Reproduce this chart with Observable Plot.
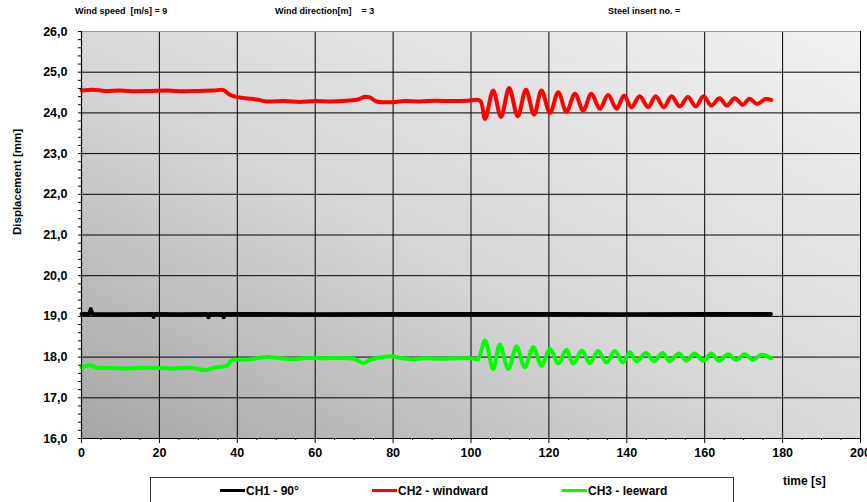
<!DOCTYPE html>
<html>
<head>
<meta charset="utf-8">
<script src="https://cdn.jsdelivr.net/npm/d3@7"></script>
<script src="https://cdn.jsdelivr.net/npm/@observablehq/plot@0.6"></script>
<style>
  body { margin: 0; background: #fff; font-family: "Liberation Sans", Arial, sans-serif; }
  #wrap { position: relative; width: 867px; height: 502px; overflow: hidden; }
  #wrap svg { position: absolute; left: 0; top: 0; }
  .hdr { position: absolute; top: 6px; font-size: 9px; font-weight: bold; white-space: pre; color: #000; line-height: 11px; }
  .xlabel { position: absolute; left: 783px; top: 473px; font-size: 12px; font-weight: bold; line-height: 16px; }
  .legend { position: absolute; left: 150px; top: 477px; width: 582px; height: 40px; border: 1px solid #333; background: #fff; }
  .item { position: absolute; top: 6px; font-size: 12px; font-weight: bold; line-height: 14px; white-space: nowrap; }
  .item .sw { display: inline-block; width: 25px; height: 3px; vertical-align: middle; margin-right: 1px; position: relative; top: -1px; }
</style>
</head>
<body>
<div id="wrap"></div>
<script>
// ---- data (time [s], displacement [mm]) ----
const headerTexts = ["Wind speed  [m/s] = 9", "Wind direction[m]    = 3", "Steel insert no. ="];
const seriesNames = ["CH1 - 90°", "CH2 - windward", "CH3 - leeward"];
const seriesColors = ["#000000", "#ff0000", "#00ff00"];

const xTicks = [0, 20, 40, 60, 80, 100, 120, 140, 160, 180, 200];
const xMinorTicks = [5,10,15,25,30,35,45,50,55,65,70,75,85,90,95,105,110,115,125,130,135,145,150,155,165,170,175,185,190,195];
const yTicks = [16, 17, 18, 19, 20, 21, 22, 23, 24, 25, 26];
const yTickLabels = ["16,0","17,0","18,0","19,0","20,0","21,0","22,0","23,0","24,0","25,0","26,0"];
const yMinorTicks = [16.2,16.4,16.6,16.8,17.2,17.4,17.6,17.8,18.2,18.4,18.6,18.8,19.2,19.4,19.6,19.8,20.2,20.4,20.6,20.8,21.2,21.4,21.6,21.8,22.2,22.4,22.6,22.8,23.2,23.4,23.6,23.8,24.2,24.4,24.6,24.8,25.2,25.4,25.6,25.8];

const ch1 = [[0,19.06],[2,19.06],[2.4,19.18],[2.8,19.06],[10,19.05],[18.2,19.06],[18.5,18.99],[18.8,19.06],[25,19.05],[32.3,19.06],[32.6,18.98],[32.9,19.06],[36.2,19.06],[36.5,18.98],[36.8,19.06],[45,19.06],[60,19.05],[80,19.06],[100,19.06],[120,19.06],[140,19.05],[160,19.06],[177,19.06]];

const ch2 = [[0,24.55],[3,24.57],[6,24.54],[10,24.55],[14,24.53],[18,24.54],[22,24.55],[26,24.53],[30,24.54],[34,24.55],[36.5,24.56],[38,24.45],[39.5,24.40],[42,24.36],[45,24.33],[47.5,24.28],[52,24.29],[56,24.27],[60,24.29],[64,24.28],[68,24.30],[71,24.33],[72.5,24.39],[74,24.38],[75.8,24.28],[79,24.26],[83,24.29],[87,24.28],[91,24.30],[95,24.29],[99,24.30],[102.3,24.30],[103.6,23.85],[105.7,24.55],[107.7,23.90],[109.8,24.61],[112.0,23.92],[114.1,24.57],[116.2,23.96],[118.1,24.55],[120.3,24.00],[122.4,24.51],[124.5,24.03],[126.7,24.47],[128.8,24.06],[130.9,24.47],[133.1,24.10],[135.2,24.44],[137.4,24.10],[139.3,24.43],[141.2,24.14],[143.3,24.41],[145.5,24.14],[147.4,24.41],[149.5,24.14],[151.5,24.41],[153.6,24.16],[155.7,24.39],[157.7,24.16],[159.7,24.41],[161.7,24.18],[163.8,24.36],[165.7,24.18],[167.7,24.36],[169.8,24.20],[171.5,24.35],[173.4,24.22],[175.6,24.34],[177.1,24.32]];

const ch3 = [[0,17.75],[2,17.80],[4,17.74],[8,17.73],[12,17.72],[16,17.74],[20,17.73],[24,17.72],[28,17.74],[32,17.68],[34,17.74],[37.3,17.79],[38.6,17.92],[42.5,17.94],[45,17.97],[47.6,18.00],[51,17.97],[54.5,17.95],[58,17.98],[62,17.97],[66,17.98],[70,17.96],[72.4,17.85],[74,17.93],[76,17.98],[79.2,18.02],[82,17.98],[85,17.95],[88,17.97],[92,17.96],[96,17.97],[100,17.97],[101.8,17.96],[103.6,18.41],[105.7,17.71],[107.4,18.31],[109.6,17.71],[111.7,18.26],[113.8,17.75],[116,18.24],[118.1,17.79],[120.3,18.20],[122.4,17.84],[124.5,18.18],[126.2,17.84],[128.5,18.16],[130.5,17.85],[132.6,18.15],[134.8,17.87],[136.9,18.15],[139,17.87],[140.8,18.12],[142.5,17.90],[144.9,18.10],[147,17.90],[149.2,18.10],[151,17.90],[153.4,18.09],[155.3,17.91],[157.4,18.09],[159.6,17.91],[161.7,18.09],[163.7,17.91],[166,18.07],[168.1,17.93],[170.3,18.07],[172.4,17.93],[174.5,18.06],[177.1,17.97]];

const series = [ch1, ch2, ch3];
const seriesCurves = ["linear", "catmull-rom", "catmull-rom"];

// ---- chart ----
const wrap = document.getElementById("wrap");
const plot = Plot.plot({
  width: 867,
  height: 502,
  marginLeft: 81,
  marginRight: 7,
  marginTop: 31,
  marginBottom: 64,
  style: { fontFamily: "'Liberation Sans', Arial, sans-serif", fontSize: "12.5px", fontWeight: "bold", color: "#000", background: "transparent", overflow: "visible" },
  x: { domain: [0, 200] },
  y: { domain: [16, 26] },
  marks: [
    Plot.frame({ fill: "url(#bgGrad)", stroke: null }),
    Plot.gridX(xTicks.filter(d => d > 0), { stroke: "#000", strokeOpacity: 1, strokeWidth: 1 }),
    Plot.gridY(yTicks.filter(d => d > 16 && d < 26), { stroke: "#000", strokeOpacity: 1, strokeWidth: 1 }),
    Plot.gridY([26], { stroke: "#999", strokeOpacity: 1, strokeWidth: 1 }),
    ...series.map((s, i) => Plot.line(s, { x: d => d[0], y: d => d[1], stroke: seriesColors[i], strokeWidth: 4, curve: seriesCurves[i] })),
    Plot.ruleX([0], { stroke: "#000", strokeWidth: 1.2 }),
    Plot.ruleY([16], { stroke: "#000", strokeWidth: 1.2 }),
    Plot.axisY(yTicks, { anchor: "left", tickSize: 3, tickPadding: 11, tickFormat: d => yTickLabels[yTicks.indexOf(d)], label: null, fontSize: 12.5, fontWeight: "bold" }),
    Plot.axisY(yMinorTicks, { anchor: "left", tickSize: 3, tickFormat: () => "", label: null }),
    Plot.axisX(xTicks, { anchor: "bottom", tickSize: 5, tickPadding: 5, tickFormat: d => String(d), label: null, fontSize: 12.5, fontWeight: "bold" }),
    Plot.axisX(xMinorTicks, { anchor: "bottom", tickSize: 2, tickFormat: () => "", label: null }),
    Plot.text(["Displacement [mm]"], { frameAnchor: "left", dx: -64, rotate: -90, fontSize: 11.5, fontWeight: "bold" })
  ]
});

d3.select(plot).insert("defs", ":first-child").html(
  `<linearGradient id="bgGrad" x1="0" y1="1" x2="1" y2="0">
     <stop offset="0" stop-color="#a6a6a6"/>
     <stop offset="0.45" stop-color="#d6d6d6"/>
     <stop offset="1" stop-color="#f2f2f2"/>
   </linearGradient>`
);
wrap.appendChild(plot);

// header texts
const hx = [75, 275, 608];
headerTexts.forEach((t, i) => {
  const d = document.createElement("div");
  d.className = "hdr"; d.style.left = hx[i] + "px"; d.textContent = t;
  wrap.appendChild(d);
});

const xl = document.createElement("div");
xl.className = "xlabel"; xl.textContent = "time [s]";
wrap.appendChild(xl);

// legend
const leg = document.createElement("div");
leg.className = "legend";
const lx = [69, 221, 411];
seriesNames.forEach((n, i) => {
  const it = document.createElement("div");
  it.className = "item"; it.style.left = lx[i] + "px";
  const sw = document.createElement("span");
  sw.className = "sw"; sw.style.background = seriesColors[i];
  it.appendChild(sw);
  it.appendChild(document.createTextNode(n));
  leg.appendChild(it);
});
wrap.appendChild(leg);
</script>
</body>
</html>
